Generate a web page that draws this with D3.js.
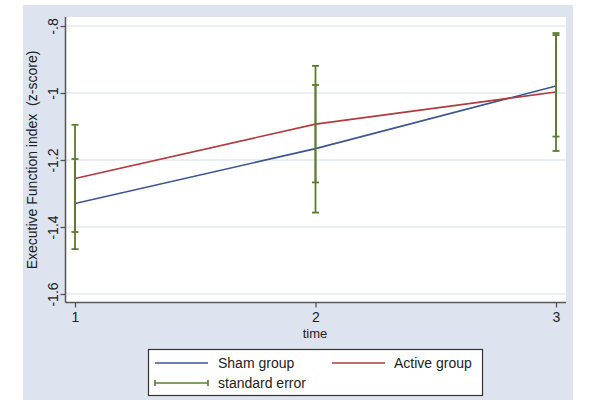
<!DOCTYPE html>
<html><head><meta charset="utf-8">
<script src="https://cdn.jsdelivr.net/npm/d3@7"></script>
<style>body{margin:0;background:#fff}svg{display:block}text{font-family:"Liberation Sans",Arial,sans-serif}</style>
</head><body><svg id="c" width="600" height="405"></svg>
<script>
const times = [1, 2, 3];
const shamMean = [-1.330, -1.166, -0.979];
const shamLow = [-1.466, -1.357, -1.130];
const shamHigh = [-1.197, -0.976, -0.827];
const activeMean = [-1.255, -1.093, -0.997];
const activeLow = [-1.415, -1.267, -1.173];
const activeHigh = [-1.095, -0.919, -0.821];
const yTicks = [-0.8, -1, -1.2, -1.4, -1.6];
const yTickLabels = ["-.8", "-1", "-1.2", "-1.4", "-1.6"];
const xTicks = [1, 2, 3];
const legendLabels = ["Sham group", "Active group", "standard error"];

const svg = d3.select("#c");
const colSham = "#3c5590", colActive = "#b03a3e", colErr = "#5b7d2b";
const bg = "#dde3ef";

svg.append("rect").attr("x", 23).attr("y", 5).attr("width", 550).attr("height", 395).attr("fill", bg);

const L = 65.5, R = 566, T = 17, B = 302.5;
svg.append("rect").attr("x", L).attr("y", T).attr("width", R - L).attr("height", B - T).attr("fill", "#fff");

const x = d3.scaleLinear().domain([1, 3]).range([75, 556]);
const y = d3.scaleLinear().domain([-0.8, -1.6]).range([26, 294]);

// gridlines
svg.append("g").selectAll("line").data(yTicks).join("line")
  .attr("x1", L).attr("x2", R).attr("y1", d => y(d)).attr("y2", d => y(d))
  .attr("stroke", "#e3e8f2").attr("stroke-width", 1.5);

// axes
const yAxis = d3.axisLeft(y).tickValues(yTicks).tickSize(5).tickFormat((d, i) => yTickLabels[i]);
const gy = svg.append("g").attr("transform", `translate(${L},0)`).call(yAxis);
gy.select(".domain").remove();
gy.selectAll(".tick line").attr("stroke", "#555").attr("stroke-width", 1.3);
gy.selectAll(".tick text").attr("font-size", 14).attr("fill", "#222")
  .attr("transform", `rotate(-90,-8,0)`)
  .attr("x", -8).attr("dy", "0").attr("text-anchor", "middle");

const xAxis = d3.axisBottom(x).tickValues(xTicks).tickSize(5).tickFormat(d3.format("d"));
const gx = svg.append("g").attr("transform", `translate(0,${B})`).call(xAxis);
gx.select(".domain").remove();
gx.selectAll(".tick line").attr("stroke", "#555").attr("stroke-width", 1.3);
gx.selectAll(".tick text").attr("font-size", 14).attr("fill", "#222").attr("y", 10).attr("dy", "0.71em");

svg.append("line").attr("x1", L).attr("x2", L).attr("y1", T).attr("y2", B).attr("stroke", "#555").attr("stroke-width", 1.5);
svg.append("line").attr("x1", L).attr("x2", R).attr("y1", B).attr("y2", B).attr("stroke", "#555").attr("stroke-width", 1.5);

// titles
svg.append("text").attr("transform", `translate(37,160) rotate(-90)`).attr("text-anchor", "middle")
  .style("white-space", "pre")
  .attr("font-size", 14).attr("fill", "#222").text("Executive Function index  (z-score)");
svg.append("text").attr("x", 315).attr("y", 338).attr("text-anchor", "middle")
  .attr("font-size", 13).attr("fill", "#222").text("time");

// lines
const line = d3.line().x((d, i) => x(times[i])).y(d => y(d));
svg.append("path").attr("d", line(shamMean)).attr("fill", "none").attr("stroke", colSham).attr("stroke-width", 1.6);
svg.append("path").attr("d", line(activeMean)).attr("fill", "none").attr("stroke", colActive).attr("stroke-width", 1.6);

// error bars
function errBars(lo, hi) {
  const g = svg.append("g").attr("stroke", colErr).attr("stroke-width", 1.8);
  times.forEach((t, i) => {
    const cx = x(t);
    g.append("line").attr("x1", cx).attr("x2", cx).attr("y1", y(lo[i])).attr("y2", y(hi[i]));
    [lo[i], hi[i]].forEach(v => g.append("line").attr("x1", cx - 3.5).attr("x2", cx + 3.5).attr("y1", y(v)).attr("y2", y(v)));
  });
}
errBars(shamLow, shamHigh);
errBars(activeLow, activeHigh);

// legend
const lg = svg.append("g");
lg.append("rect").attr("x", 148.5).attr("y", 349.5).attr("width", 334).attr("height", 46).attr("fill", "#fff").attr("stroke", "#333").attr("stroke-width", 1.2);
lg.append("line").attr("x1", 155).attr("x2", 208).attr("y1", 363).attr("y2", 363).attr("stroke", colSham).attr("stroke-width", 1.6);
lg.append("line").attr("x1", 332).attr("x2", 385).attr("y1", 363).attr("y2", 363).attr("stroke", colActive).attr("stroke-width", 1.6);
const eg = lg.append("g").attr("stroke", colErr).attr("stroke-width", 1.6);
eg.append("line").attr("x1", 155).attr("x2", 208).attr("y1", 383).attr("y2", 383);
eg.append("line").attr("x1", 155).attr("x2", 155).attr("y1", 380).attr("y2", 386);
eg.append("line").attr("x1", 208).attr("x2", 208).attr("y1", 380).attr("y2", 386);
lg.append("text").attr("x", 218).attr("y", 368).attr("font-size", 14).attr("fill", "#222").text(legendLabels[0]);
lg.append("text").attr("x", 394).attr("y", 368).attr("font-size", 14).attr("fill", "#222").text(legendLabels[1]);
lg.append("text").attr("x", 218).attr("y", 388).attr("font-size", 14).attr("fill", "#222").text(legendLabels[2]);
</script></body></html>
